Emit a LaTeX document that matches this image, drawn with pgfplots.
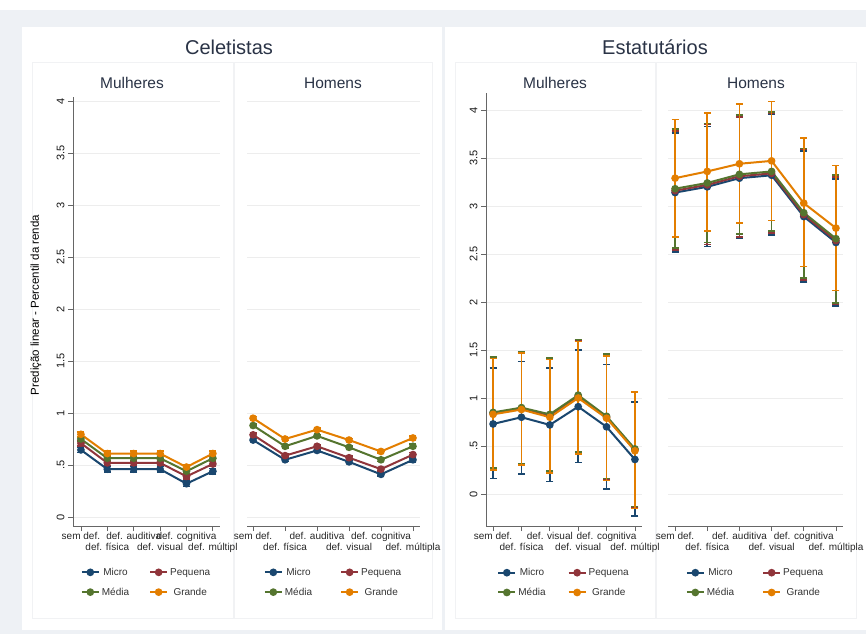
\documentclass[border=0pt]{standalone}
\usepackage{fontspec}
\setmainfont{Liberation Sans}
\usepackage{pgfplots}
\usepackage{pgfplotstable}
\pgfplotsset{compat=1.18}

\definecolor{cmicro}{HTML}{1A476F}
\definecolor{cpeq}{HTML}{90353B}
\definecolor{cmed}{HTML}{55752F}
\definecolor{cgra}{HTML}{E37E00}
\definecolor{bgc}{HTML}{EEF1F5}
\definecolor{titc}{HTML}{2A3346}
\definecolor{boxc}{HTML}{F1F2F4}

% Celetistas - Mulheres (x, valor, limite inferior, limite superior)
\pgfplotstableread{
x  mi    mil   mih   pe    pel   peh   me    mel   meh   gr    grl   grh
1  0.645 0.62  0.67  0.71  0.685 0.735 0.75  0.725 0.775 0.795 0.77  0.82
2  0.46  0.435 0.485 0.52  0.495 0.545 0.565 0.54  0.59  0.61  0.585 0.635
3  0.46  0.435 0.485 0.52  0.495 0.545 0.565 0.54  0.59  0.61  0.585 0.635
4  0.46  0.435 0.485 0.52  0.495 0.545 0.565 0.54  0.59  0.61  0.585 0.635
5  0.32  0.295 0.345 0.39  0.365 0.415 0.44  0.415 0.465 0.48  0.455 0.505
6  0.44  0.415 0.465 0.51  0.485 0.535 0.565 0.54  0.59  0.61  0.585 0.635
}\celM
% Celetistas - Homens
\pgfplotstableread{
x  mi    mil   mih   pe    pel   peh   me    mel   meh   gr    grl   grh
1  0.74  0.725 0.755 0.79  0.775 0.805 0.88  0.865 0.895 0.95  0.935 0.965
2  0.55  0.535 0.565 0.59  0.575 0.605 0.68  0.665 0.695 0.75  0.735 0.765
3  0.64  0.625 0.655 0.68  0.665 0.695 0.78  0.765 0.795 0.84  0.825 0.855
4  0.53  0.515 0.545 0.57  0.555 0.585 0.67  0.655 0.685 0.74  0.725 0.755
5  0.41  0.395 0.425 0.46  0.445 0.475 0.55  0.535 0.565 0.63  0.615 0.645
6  0.55  0.53  0.57  0.60  0.58  0.62  0.68  0.66  0.70  0.76  0.74  0.78
}\celH
% Estatutarios - Mulheres
\pgfplotstableread{
x  mi    mil    mih   pe    pel    peh   me    mel    meh   gr    grl    grh
1  0.73  0.16   1.31  0.84  0.26   1.42  0.85  0.27   1.43  0.83  0.25   1.41
2  0.80  0.21   1.38  0.89  0.31   1.47  0.90  0.32   1.48  0.88  0.30   1.47
3  0.72  0.13   1.31  0.82  0.23   1.41  0.83  0.24   1.42  0.80  0.22   1.40
4  0.91  0.33   1.50  1.02  0.43   1.60  1.03  0.44   1.61  1.00  0.42   1.59
5  0.70  0.05   1.35  0.80  0.15   1.45  0.81  0.16   1.46  0.79  0.14   1.44
6  0.36  -0.23  0.96  0.46  -0.14  1.06  0.47  -0.13  1.07  0.45  -0.15  1.06
}\estM
% Estatutarios - Homens
\pgfplotstableread{
x  mi    mil   mih   pe    pel   peh   me    mel   meh   gr    grl   grh
1  3.14  2.52  3.76  3.16  2.54  3.78  3.18  2.56  3.80  3.29  2.68  3.90
2  3.20  2.58  3.83  3.22  2.60  3.85  3.24  2.62  3.86  3.36  2.74  3.97
3  3.29  2.66  3.92  3.31  2.68  3.93  3.33  2.71  3.95  3.44  2.82  4.06
4  3.32  2.70  3.96  3.34  2.72  3.97  3.36  2.74  3.98  3.47  2.85  4.09
5  2.89  2.21  3.57  2.91  2.23  3.59  2.93  2.25  3.60  3.03  2.37  3.71
6  2.62  1.96  3.28  2.64  1.98  3.30  2.66  1.99  3.32  2.77  2.12  3.42
}\estH

% intervalos de confianca (desenhados antes das linhas)
\newcommand{\ci}[3]{%
  \addplot[forget plot, color=#3, only marks, mark=none, line width=1.6pt,
    error bars/.cd, y dir=both, y explicit,
    error bar style={draw=#3, line width=1.6pt},
    error mark options={draw=#3, line width=1.6pt, mark size=3.5pt, rotate=90}]
    table[x=x, y=#2, y error plus expr=\thisrow{#2h}-\thisrow{#2},
          y error minus expr=\thisrow{#2}-\thisrow{#2l}] {#1};}
\newcommand{\linha}[3]{%
  \addplot[color=#3, line width=2pt, mark=*, mark size=2.8pt]
    table[x=x, y=#2] {#1};}
\newcommand{\painel}[1]{%
  \ci{#1}{mi}{cmicro}\ci{#1}{pe}{cpeq}\ci{#1}{me}{cmed}\ci{#1}{gr}{cgra}
  \linha{#1}{mi}{cmicro}\linha{#1}{pe}{cpeq}\linha{#1}{me}{cmed}\linha{#1}{gr}{cgra}
  \legend{Micro, Pequena, Média, Grande}}
% rotulos do eixo x em duas linhas alternadas
\newcommand{\ra}[1]{\strut #1}
\newcommand{\rb}[1]{\strut\\\strut #1}

\pgfplotsset{
  stata/.style={
    scale only axis, anchor=south west,
    axis x line*=bottom, axis y line*=left,
    axis line style={-, draw=black!60, line width=0.8pt},
    tick align=outside, major tick length=5pt,
    tick style={draw=black!60, line width=0.8pt},
    xtick={1,2,3,4,5,6},
    ytick={0,0.5,1,1.5,2,2.5,3,3.5,4},
    yticklabels={0,.5,1,1.5,2,2.5,3,3.5,4},
    ymajorgrids, major grid style={draw=black!7, line width=0.8pt},
    tick label style={font=\fontsize{10}{10}\selectfont, text=black!85},
    yticklabel style={rotate=90, anchor=south,
      font=\fontsize{11}{11}\selectfont, text=black!90},
    xticklabel style={align=center, anchor=north, inner sep=1pt},
    legend columns=2,
    legend style={draw=none, fill=none, anchor=north,
      at={(0.5,-0.088)},
      font=\fontsize{10}{12}\selectfont, text=black!80,
      row sep=7pt},
  },
  semy/.style={y axis line style={draw=none}, ytick style={draw=none},
    yticklabels={}},
}

\begin{document}
\begin{tikzpicture}[x=1pt, y=1pt]
\path[use as bounding box] (0,0) rectangle (866,-634);
\fill[white] (0,0) rectangle (866,-634);
\fill[bgc] (0,-10) rectangle (866,-634);
\fill[white] (22,-27) rectangle (442,-630);
\fill[white] (445,-27) rectangle (866,-630);
\draw[boxc, line width=1pt] (32,-62) rectangle (233,-618);
\draw[boxc, line width=1pt] (234,-62) rectangle (432,-618);
\draw[boxc, line width=1pt] (455,-62) rectangle (655,-618);
\draw[boxc, line width=1pt] (656,-62) rectangle (856,-618);

\node[text=titc, font=\fontsize{20}{20}\selectfont] at (229,-47) {Celetistas};
\node[text=titc, font=\fontsize{20}{20}\selectfont] at (655,-47) {Estatutários};
\node[text=titc, font=\fontsize{15.5}{16}\selectfont] at (132,-83) {Mulheres};
\node[text=titc, font=\fontsize{15.5}{16}\selectfont] at (333,-83) {Homens};
\node[text=titc, font=\fontsize{15.5}{16}\selectfont] at (555,-83) {Mulheres};
\node[text=titc, font=\fontsize{15.5}{16}\selectfont] at (756,-83) {Homens};

% Celetistas - Mulheres
\begin{axis}[stata, at={(73pt,-526pt)}, width=147pt, height=429pt,
  xmin=0.7, xmax=6.27, ymin=-0.087, ymax=4.04,
  xticklabels={{\ra{sem def.}},{\rb{def. física}},{\ra{def. auditiva}},{\rb{def. visual}},{\ra{def. cognitiva}},{\rb{def. múltipl}}},
  legend style={/tikz/every even column/.append style={column sep=18pt}},
  ylabel={Predição linear - Percentil da renda},
  ylabel style={at={(axis description cs:-0.252,0.515)}, anchor=center,
    font=\fontsize{11.5}{12}\selectfont, text=black}]
\painel{\celM}
\end{axis}

% Celetistas - Homens
\begin{axis}[stata, semy, at={(247pt,-526pt)}, width=173pt, height=429pt,
  xmin=0.81, xmax=6.22, ymin=-0.087, ymax=4.04,
  xticklabels={{\ra{sem def.}},{\rb{def. física}},{\ra{def. auditiva}},{\rb{def. visual}},{\ra{def. cognitiva}},{\rb{def. múltipla}}},
  legend style={/tikz/every even column/.append style={column sep=26pt}}]
\painel{\celH}
\end{axis}

% Estatutarios - Mulheres
\begin{axis}[stata, at={(486pt,-526pt)}, width=156pt, height=433pt,
  xmin=0.75, xmax=6.25, ymin=-0.333, ymax=4.177,
  xticklabels={{\ra{sem def.}},{\rb{def. física}},{\ra{def. visual}},{\rb{def. visual}},{\ra{def. cognitiva}},{\rb{def. múltipl}}},
  legend style={/tikz/every even column/.append style={column sep=20pt}}]
\painel{\estM}
\end{axis}

% Estatutarios - Homens
\begin{axis}[stata, semy, at={(668pt,-526pt)}, width=175pt, height=433pt,
  xmin=0.78, xmax=6.22, ymin=-0.333, ymax=4.177,
  xticklabels={{\ra{sem def.}},{\rb{def. física}},{\ra{def. auditiva}},{\rb{def. visual}},{\ra{def. cognitiva}},{\rb{def. múltipla}}},
  legend style={/tikz/every even column/.append style={column sep=26pt}}]
\painel{\estH}
\end{axis}
\end{tikzpicture}
\end{document}
